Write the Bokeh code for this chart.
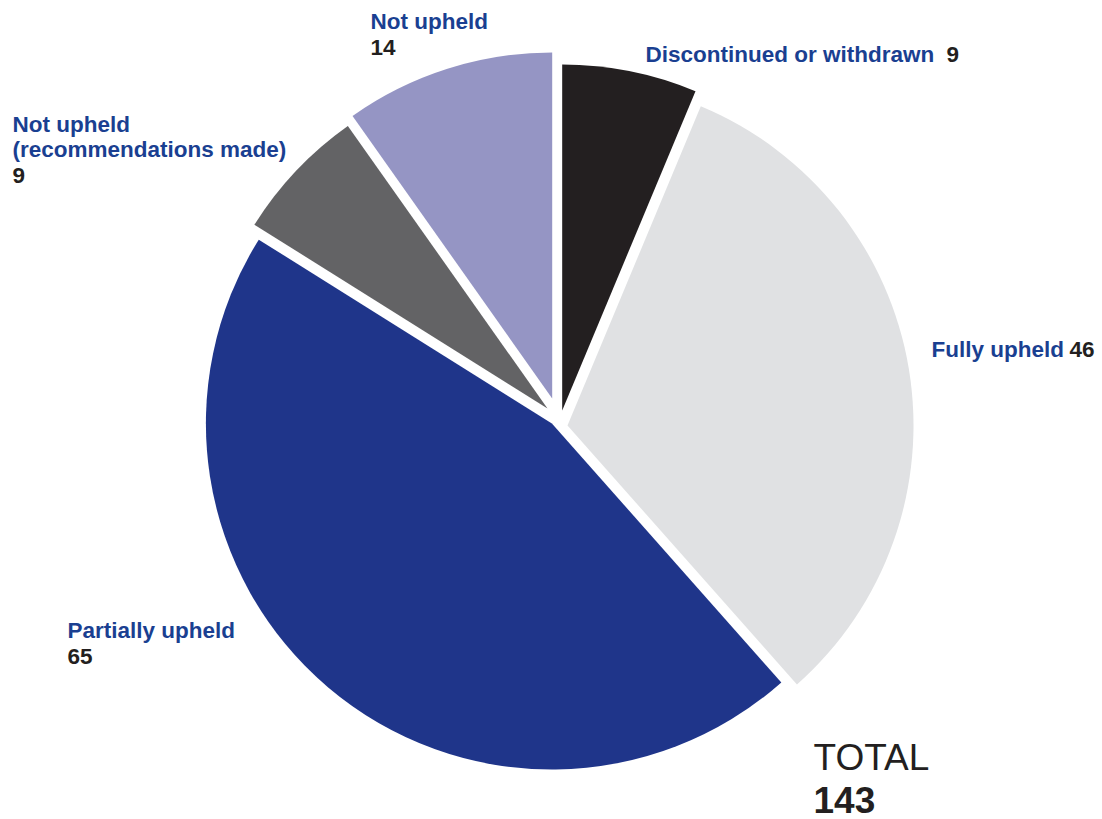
import math
from bokeh.plotting import figure
from bokeh.models import Range1d, ColumnDataSource
from bokeh.core.properties import value
from bokeh.embed import file_html
from bokeh.resources import INLINE

# ---- data ----
categories = ["Discontinued or withdrawn", "Fully upheld", "Partially upheld",
              "Not upheld (recommendations made)", "Not upheld"]
counts = [9, 46, 65, 9, 14]
total_label = "TOTAL"

# ---- style ----
colors = ["#231f20", "#e0e1e3", "#1f358a", "#636365", "#9595c4"]
BLUE_TXT = "#1a3f91"
BLACK_TXT = "#231f20"
FONT = "Liberation Sans"
LBL_SIZE = 22.5
LBL_SHIFT = 8.5     # compensate renderer baseline offset (px)
TOT_SHIFT = 12

W, H = 1102, 819
CX, CY = 557, 415          # pie centre (screen px)
R = 346
# small manual "explode" offsets per slice (screen px)
offsets = [(4.7, -5), (10, 10), (-5.6, 8), (-10, -7), (-5.3, -17)]

p = figure(width=W, height=H, x_range=Range1d(0, W), y_range=Range1d(0, H),
           output_backend="svg", toolbar_location=None, min_border=0)
p.axis.visible = False
p.grid.visible = False
p.outline_line_color = None
p.background_fill_color = "white"
p.border_fill_color = "white"

total = sum(counts)
xs, ys, st, en = [], [], [], []
cum = 0
for c, (dx, dy) in zip(counts, offsets):
    a0 = cum / total * 2 * math.pi
    a1 = (cum + c) / total * 2 * math.pi
    cum += c
    st.append(math.pi / 2 - a0)
    en.append(math.pi / 2 - a1)
    xs.append(CX + dx)
    ys.append(H - (CY + dy))

src = ColumnDataSource(dict(x=xs, y=ys, start=st, end=en, color=colors,
                            cat=categories, n=counts))
p.wedge(x="x", y="y", radius=R, start_angle="start", end_angle="end",
        direction="clock", fill_color="color", line_color=None, source=src)

# ---- labels (anchor = left, baseline; screen px) ----
anchors = {
    "Discontinued or withdrawn": ((645, 62), "inline", 946),
    "Fully upheld": ((931, 357), "inline", 1069),
    "Partially upheld": ((67, 638), "below", 664),
    "Not upheld (recommendations made)": ((12, 132), "below", 183),
    "Not upheld": ((370, 29), "below", 55),
}

bt, bx, by = [], [], []
nt, nx, ny = [], [], []
for cat, n in zip(categories, counts):
    (x0, y0), mode, pos = anchors[cat]
    if "(" in cat:
        first, second = cat.split(" (")
        lines = [first, "(" + second]
    else:
        lines = [cat]
    for i, line in enumerate(lines):
        bt.append(line); bx.append(x0); by.append(H - (y0 + 25 * i - LBL_SHIFT))
    nt.append(str(n))
    if mode == "inline":
        nx.append(pos); ny.append(H - (y0 - LBL_SHIFT))
    else:
        nx.append(x0); ny.append(H - (pos - LBL_SHIFT))

p.text(x=bx, y=by, text=bt, text_font=value(FONT), text_font_style="bold",
       text_font_size=f"{LBL_SIZE}px", text_color=BLUE_TXT,
       text_baseline="alphabetic", text_align="left")
p.text(x=nx, y=ny, text=nt, text_font=value(FONT), text_font_style="bold",
       text_font_size=f"{LBL_SIZE}px", text_color=BLACK_TXT,
       text_baseline="alphabetic", text_align="left")

p.text(x=[813], y=[H - (769 - TOT_SHIFT)], text=[total_label], text_font=value(FONT),
       text_font_style="normal", text_font_size="37px", text_color=BLACK_TXT,
       text_baseline="alphabetic", text_align="left")
p.text(x=[813], y=[H - (811 - TOT_SHIFT)], text=[str(total)], text_font=value(FONT),
       text_font_style="bold", text_font_size="37px", text_color=BLACK_TXT,
       text_baseline="alphabetic", text_align="left")

open("out.html", "w").write(file_html(p, INLINE))
